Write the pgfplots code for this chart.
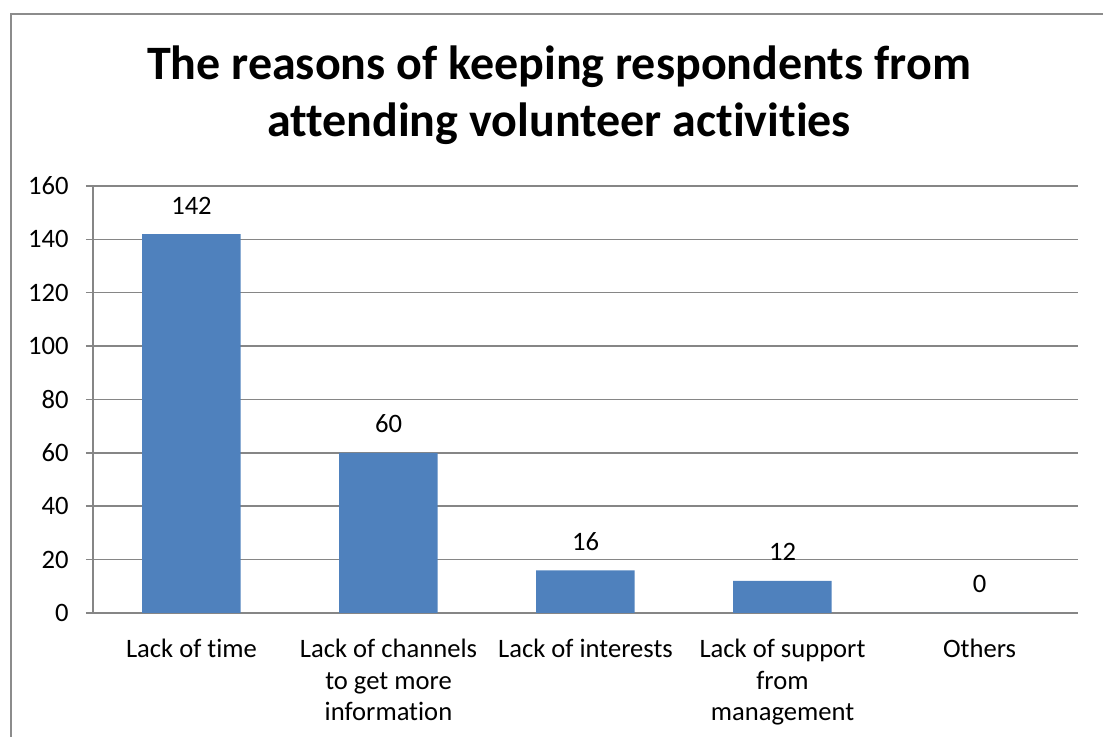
\documentclass[border=0pt]{standalone}
\usepackage{pgfplots}
\pgfplotsset{compat=1.18}
\usepackage{fontspec}
\setmainfont{Carlito}[Ligatures=NoCommon]
\definecolor{barblue}{HTML}{4F81BD}
\definecolor{gridgray}{HTML}{868686}
\definecolor{framegray}{HTML}{8C8C8C}
% category labels set as top-aligned stacks, so their first line sits on the anchor
\newcommand{\cat}[1]{\begin{tabular}[t]{@{}c@{}}#1\end{tabular}}
\begin{document}
\begin{tikzpicture}
% page extent and the outer chart frame (left and top edges)
\path[use as bounding box] (-46.5pt,-62pt) rectangle (505pt,306.5pt);
\draw[framegray, line width=0.8pt] (-41pt,-62pt) -- (-41pt,299.5pt) -- (505pt,299.5pt);
\node[font=\fontsize{24}{28}\selectfont\bfseries, anchor=base] at (233pt,266.5pt)
  {The reasons of keeping respondents from};
\node[font=\fontsize{24}{28}\selectfont\bfseries, anchor=base] at (233pt,238pt)
  {attending volunteer activities};
\begin{axis}[
  scale only axis,
  width=492.5pt, height=213.5pt,
  xmin=-0.5, xmax=4.5,
  ymin=0, ymax=160,
  ytick={0,20,...,160},
  xtick={0,1,2,3,4},
  xticklabels={\cat{Lack of time},
    \cat{Lack of channels\\to get more\\information},
    \cat{Lack of interests},
    \cat{Lack of support\\from\\management},
    \cat{Others}},
  minor xtick={-0.5,0.5,...,4.5},
  axis x line*=bottom, axis y line*=left,
  axis line style={gridgray, line width=0.75pt, -},
  ymajorgrids,
  grid style={gridgray, line width=0.75pt},
  tick align=outside,
  xtick style={draw=none},
  minor x tick style={gridgray, line width=0.75pt},
  ytick style={gridgray, line width=0.75pt},
  major tick length=3.5pt, minor tick length=3.5pt,
  /pgf/number format/assume math mode=true,
  every tick label/.append style={font=\fontsize{13.3}{15.75}\selectfont, text=black},
  y tick label style={anchor=east, inner sep=0pt, xshift=-8.5pt},
  x tick label style={anchor=base, inner sep=0pt, yshift=-19pt},
  ybar, bar width=0.5,
  nodes near coords,
  every node near coord/.append style={font=\fontsize{13.3}{15}\selectfont, anchor=base, inner sep=0pt, yshift=10pt},
  clip=false,
]
\addplot[fill=barblue, draw=none, bar shift=0pt]
  coordinates {(0,142) (1,60) (2,16) (3,12) (4,0)};
\end{axis}
\end{tikzpicture}
\end{document}
